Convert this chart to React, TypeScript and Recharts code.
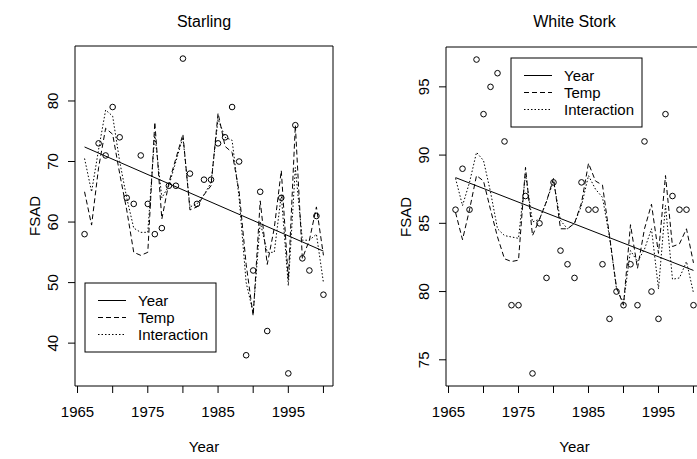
import { ComposedChart, Line, Scatter, XAxis, YAxis, ReferenceArea } from 'recharts';

// Years on the x axis (fitted values exist for every year)
const years = [
  1966, 1967, 1968, 1969, 1970, 1971, 1972, 1973, 1974, 1975, 1976, 1977,
  1978, 1979, 1980, 1981, 1982, 1983, 1984, 1985, 1986, 1987, 1988, 1989,
  1990, 1991, 1992, 1993, 1994, 1995, 1996, 1997, 1998, 1999, 2000,
];
const trendYears = [1966, 2000];

const xTicks = [1965, 1970, 1975, 1980, 1985, 1990, 1995, 2000];
const xLabelled = [1965, 1975, 1985, 1995];

// Starling
const starlingObsYears = [
  1966, 1968, 1969, 1970, 1971, 1972, 1973, 1974, 1975, 1976, 1977, 1978,
  1979, 1980, 1981, 1982, 1983, 1984, 1985, 1986, 1987, 1988, 1989, 1990,
  1991, 1992, 1994, 1995, 1996, 1997, 1998, 1999, 2000,
];
const starlingObs = [
  58, 73, 71, 79, 74, 64, 63, 71, 63, 58, 59, 66, 66, 87, 68, 63, 67, 67, 73,
  74, 79, 70, 38, 52, 65, 42, 64, 35, 76, 54, 52, 61, 48,
];
const starlingTemp = [
  65, 59.5, 69, 75.5, 74.5, 68, 62, 55, 54.5, 55, 76.5, 60.5, 66.5, 70.5, 74.5,
  62, 62.5, 64.5, 66, 78, 72.5, 71.5, 65, 53, 44.5, 63.5, 53, 59, 68.5, 50.5,
  76, 54, 57, 62.5, 54.5,
];
const starlingInteraction = [
  70.5, 65, 72, 78.5, 77.5, 70, 64, 59, 58.3, 58.3, 74.5, 64, 66, 70, 74, 62.5,
  63, 64.5, 66.5, 77, 74, 73.5, 64, 50, 45, 60, 55, 55, 64.5, 49.5, 69, 57, 57,
  58, 50,
];
const starlingTrend = [72.4, 55.2];
const starlingTicks = [40, 50, 60, 70, 80];

// White Stork
const storkObs = [
  86, 89, 86, 97, 93, 95, 96, 91, 79, 79, 87, 74, 85, 81, 88, 83, 82, 81, 88,
  86, 86, 82, 78, 80, 79, 82, 79, 91, 80, 78, 93, 87, 86, 86, 79,
];
const storkTemp = [
  85.8, 83.8, 86, 88.5, 88.1, 86, 84, 82.4, 82.2, 82.3, 89.1, 84.1, 85.3, 86.6,
  88.3, 84.6, 84.6, 85, 86.5, 89.4, 88.1, 87.8, 84.1, 80.3, 79, 84.9, 81.7,
  84.6, 86.4, 82.8, 88.5, 83.3, 83.5, 84.6, 82.1,
];
const storkInteraction = [
  88.3, 86.3, 88, 90.2, 89.6, 87.3, 84.6, 84.1, 84, 83.9, 88.6, 85.1, 85.3,
  86.6, 88.1, 85.2, 84.6, 85, 86.3, 88.5, 87.5, 86.9, 84, 80.2, 79.2, 83, 82.2,
  83.1, 84.6, 80.2, 86.3, 80.9, 81, 82.2, 79.9,
];
const storkTrend = [88.35, 81.55];
const storkTicks = [75, 80, 85, 90, 95];

const legendItems = [
  { name: 'Year', dash: undefined },
  { name: 'Temp', dash: '5 3' },
  { name: 'Interaction', dash: '1.5 2' },
];

const FONT = '"Liberation Sans", Arial, Helvetica, sans-serif';

const pairs = (xs: number[], ys: number[]) => xs.map((x, i) => ({ x, y: ys[i] }));

const XTick = (props: any) => {
  const { x, y, payload } = props;
  if (!xLabelled.includes(payload.value)) return <g />;
  return (
    <text x={x} y={y + 22} textAnchor="middle" fontSize={15} fill="#000" fontFamily={FONT}>
      {payload.value}
    </text>
  );
};

const YTick = (props: any) => {
  const { x, y, payload } = props;
  const bx = x - 8;
  return (
    <text
      x={bx}
      y={y}
      transform={`rotate(-90, ${bx}, ${y})`}
      textAnchor="middle"
      fontSize={15}
      fill="#000"
      fontFamily={FONT}
    >
      {payload.value}
    </text>
  );
};

const OpenCircle = (props: any) => {
  const { cx, cy } = props;
  return <circle cx={cx} cy={cy} r={2.8} fill="none" stroke="#000" strokeWidth={1} />;
};

function Panel({
  title,
  left,
  width,
  top,
  marginRight,
  obs,
  temp,
  interaction,
  trend,
  yDomain,
  yTicks,
  legend,
}: any) {
  const xDomain = [1964.64, 2001.36];
  const plotLeft = 75;
  const plotRight = width - marginRight;
  const center = (plotLeft + plotRight) / 2;
  return (
    <div style={{ position: 'absolute', left, top: 0, width, height: 459 }}>
      <ComposedChart width={width} height={459} margin={{ top, right: marginRight, bottom: 0, left: 0 }}>
        <XAxis
          type="number"
          dataKey="x"
          domain={xDomain}
          ticks={xTicks}
          allowDataOverflow
          axisLine={false}
          tickLine={{ stroke: '#000' }}
          tickSize={7}
          tick={<XTick />}
          height={73}
          interval={0}
        />
        <YAxis
          type="number"
          dataKey="y"
          domain={yDomain}
          ticks={yTicks}
          allowDataOverflow
          axisLine={false}
          tickLine={{ stroke: '#000' }}
          tickSize={7}
          tick={<YTick />}
          width={75}
          interval={0}
        />
        <ReferenceArea
          x1={xDomain[0]}
          x2={xDomain[1]}
          y1={yDomain[0]}
          y2={yDomain[1]}
          fill="none"
          stroke="#000"
          strokeWidth={1}
          ifOverflow="visible"
        />
        <Scatter data={obs} dataKey="y" shape={<OpenCircle />} isAnimationActive={false} />
        <Line
          data={pairs(trendYears, trend)}
          dataKey="y"
          type="linear"
          stroke="#000"
          strokeWidth={1}
          dot={false}
          isAnimationActive={false}
        />
        <Line
          data={pairs(years, temp)}
          dataKey="y"
          type="linear"
          stroke="#000"
          strokeWidth={1}
          strokeDasharray="5 3"
          dot={false}
          isAnimationActive={false}
        />
        <Line
          data={pairs(years, interaction)}
          dataKey="y"
          type="linear"
          stroke="#000"
          strokeWidth={1}
          strokeDasharray="1.5 2"
          dot={false}
          isAnimationActive={false}
        />
      </ComposedChart>
      <svg
        width={width}
        height={459}
        style={{ position: 'absolute', left: 0, top: 0, pointerEvents: 'none' }}
        fontFamily={FONT}
      >
        <text x={center} y={27} textAnchor="middle" fontSize={16} fill="#000">
          {title}
        </text>
        <text x={center} y={452} textAnchor="middle" fontSize={15} fill="#000">
          Year
        </text>
        <text
          x={40}
          y={top + 170}
          transform={`rotate(-90, 40, ${top + 170})`}
          textAnchor="middle"
          fontSize={15}
          fill="#000"
        >
          FSAD
        </text>
        <rect x={legend.x} y={legend.y} width={131} height={69} fill="#fff" stroke="#000" strokeWidth={1} />
        {legendItems.map((item, i) => {
          const rowY = legend.y + 17.5 + i * 17;
          return (
            <g key={item.name}>
              <line
                x1={legend.x + 13}
                x2={legend.x + 41}
                y1={rowY}
                y2={rowY}
                stroke="#000"
                strokeWidth={1}
                strokeDasharray={item.dash}
              />
              <text x={legend.x + 53} y={rowY + 5.5} fontSize={15} fill="#000">
                {item.name}
              </text>
            </g>
          );
        })}
      </svg>
    </div>
  );
}

export default function App() {
  return (
    <div
      style={{
        position: 'absolute',
        left: 0,
        top: 0,
        width: 697,
        height: 459,
        overflow: 'hidden',
        background: '#fff',
      }}
    >
      <Panel
        title="Starling"
        left={0}
        width={350}
        top={46}
        marginRight={17}
        obs={pairs(starlingObsYears, starlingObs)}
        temp={starlingTemp}
        interaction={starlingInteraction}
        trend={starlingTrend}
        yDomain={[32.92, 89.08]}
        yTicks={starlingTicks}
        legend={{ x: 85, y: 283 }}
      />
      <Panel
        title="White Stork"
        left={371}
        width={340}
        top={47}
        marginRight={8}
        obs={pairs(years, storkObs)}
        temp={storkTemp}
        interaction={storkInteraction}
        trend={storkTrend}
        yDomain={[73.08, 97.92]}
        yTicks={storkTicks}
        legend={{ x: 140, y: 58 }}
      />
    </div>
  );
}
